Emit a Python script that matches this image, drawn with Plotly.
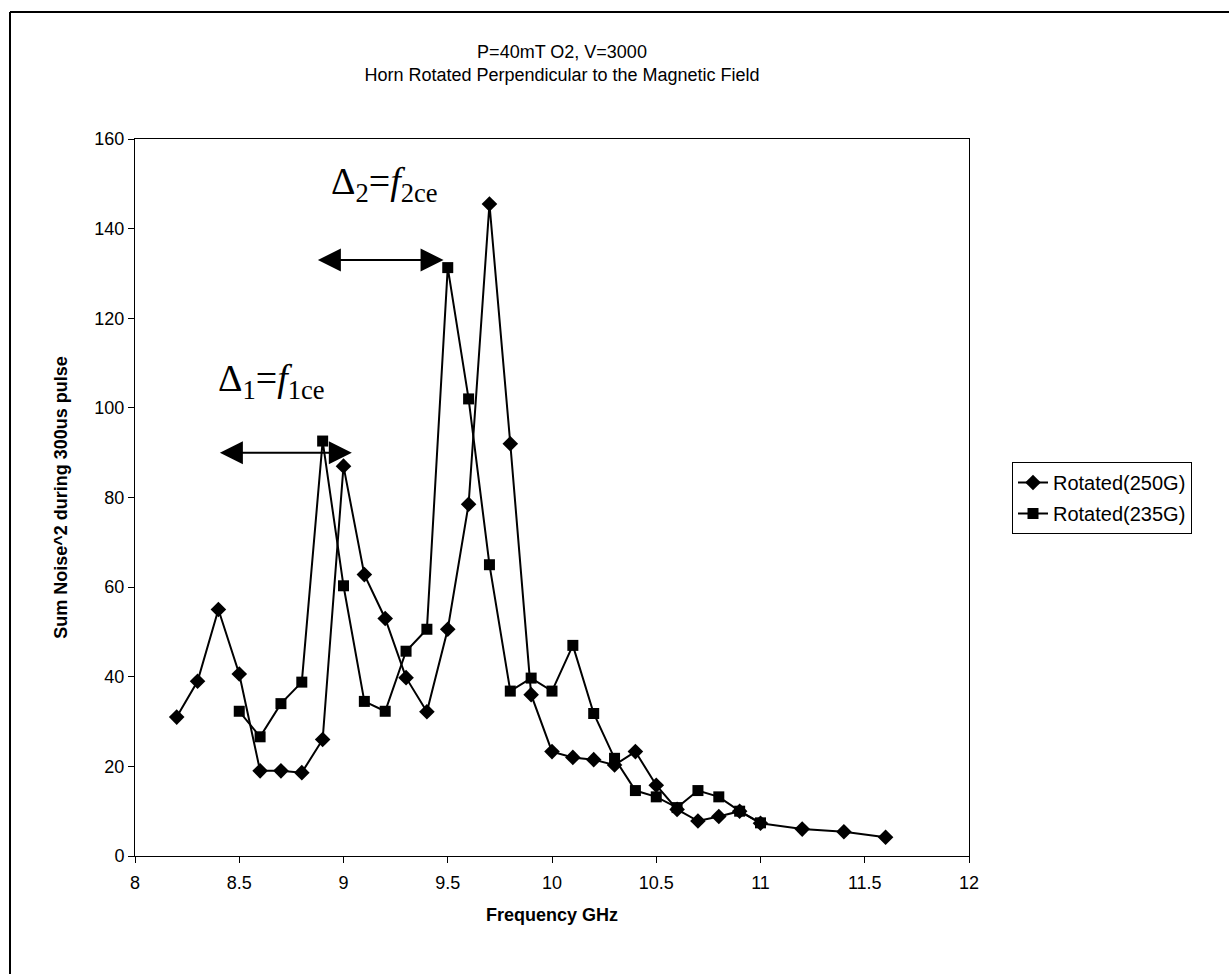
import plotly.graph_objects as go

# Measured noise energy vs. frequency for the two field settings
freq_250 = [8.2, 8.3, 8.4, 8.5, 8.6, 8.7, 8.8, 8.9, 9.0, 9.1, 9.2, 9.3, 9.4, 9.5, 9.6,
            9.7, 9.8, 9.9, 10.0, 10.1, 10.2, 10.3, 10.4, 10.5, 10.6, 10.7, 10.8, 10.9,
            11.0, 11.2, 11.4, 11.6]
noise_250 = [31, 39, 55, 40.6, 19, 19, 18.6, 26, 87, 62.8, 53, 39.8, 32.2, 50.6, 78.5,
             145.5, 92, 36, 23.3, 22, 21.5, 20.3, 23.3, 15.8, 10.4, 7.8, 8.8, 10,
             7.3, 6, 5.4, 4.2]

freq_235 = [8.5, 8.6, 8.7, 8.8, 8.9, 9.0, 9.1, 9.2, 9.3, 9.4, 9.5, 9.6, 9.7, 9.8, 9.9,
            10.0, 10.1, 10.2, 10.3, 10.4, 10.5, 10.6, 10.7, 10.8, 10.9, 11.0]
noise_235 = [32.3, 26.6, 34, 38.8, 92.6, 60.3, 34.5, 32.3, 45.7, 50.6, 131.3, 102, 65,
             36.8, 39.7, 36.8, 47, 31.8, 21.8, 14.6, 13.2, 10.8, 14.6, 13.2, 10, 7.4]

series_names = ["Rotated(250G)", "Rotated(235G)"]
x_ticks = [8, 8.5, 9, 9.5, 10, 10.5, 11, 11.5, 12]
y_ticks = [0, 20, 40, 60, 80, 100, 120, 140, 160]

SANS = "Liberation Sans, Arial, sans-serif"
SERIF = "Liberation Serif, Times New Roman, serif"

fig = go.Figure()
fig.add_trace(go.Scatter(
    x=freq_250, y=noise_250, mode="lines+markers", name=series_names[0],
    legendgroup="a",
    line=dict(color="black", width=2),
    marker=dict(symbol="diamond", size=12, color="black"),
))
fig.add_trace(go.Scatter(
    x=freq_235, y=noise_235, mode="lines+markers", name=series_names[1],
    legendgroup="b",
    line=dict(color="black", width=2),
    marker=dict(symbol="square", size=11, color="black"),
))

W, H = 1229, 974
L, R, T, B = 135, W - 969, 139, H - 856
pw, ph = W - L - R, H - T - B


def px_to_paper(px, py):
    return (px - L) / pw, (H - B - py) / ph


annotations = []
# double-headed arrows marking the frequency offsets
for (x0, x1, yv) in [(8.40, 9.04, 90), (8.87, 9.48, 133)]:
    annotations.append(dict(
        x=x1, y=yv, ax=x0, ay=yv, xref="x", yref="y", axref="x", ayref="y",
        text="", showarrow=True, arrowhead=2, arrowside="end+start",
        arrowsize=2.3, arrowwidth=2, arrowcolor="black",
    ))
annotations.append(dict(
    x=8.39, y=106, xref="x", yref="y", xanchor="left", yanchor="middle",
    text="Δ<sub>1</sub>=<i>f</i><sub>1ce</sub>", showarrow=False,
    font=dict(family=SERIF, size=38, color="black"),
))
annotations.append(dict(
    x=8.93, y=150, xref="x", yref="y", xanchor="left", yanchor="middle",
    text="Δ<sub>2</sub>=<i>f</i><sub>2ce</sub>", showarrow=False,
    font=dict(family=SERIF, size=38, color="black"),
))

# outer frame (left and top edges)
fx0, fy0 = px_to_paper(10, 12)
fx1, fy1 = px_to_paper(W + 5, H + 5)
shapes = [
    dict(type="line", xref="paper", yref="paper", x0=fx0, y0=fy0, x1=fx0, y1=fy1,
         line=dict(color="black", width=2)),
    dict(type="line", xref="paper", yref="paper", x0=fx0, y0=fy0, x1=fx1, y1=fy0,
         line=dict(color="black", width=2)),
]

lx, ly = px_to_paper(1012, 462)

fig.update_layout(
    width=W, height=H,
    margin=dict(l=L, r=R, t=T, b=B),
    paper_bgcolor="white", plot_bgcolor="white",
    font=dict(family=SANS, size=18, color="black"),
    title=dict(
        text="P=40mT O2, V=3000<br>Horn Rotated Perpendicular to the Magnetic Field",
        x=562 / W, xref="container", xanchor="center",
        y=1 - 58 / H, yref="container", yanchor="top",
        font=dict(family=SANS, size=18, color="black"),
    ),
    xaxis=dict(
        range=[8, 12], tickvals=x_ticks, ticktext=[f"{v:g}" for v in x_ticks],
        showline=True, mirror=True, linecolor="black", linewidth=1,
        ticks="outside", ticklen=6, tickcolor="black", showgrid=False, zeroline=False,
        tickfont=dict(family=SANS, size=18), ticklabelstandoff=4,
        title=dict(text="<b>Frequency GHz</b>", font=dict(family=SANS, size=18), standoff=16),
    ),
    yaxis=dict(
        range=[0, 160], tickvals=y_ticks,
        showline=True, mirror=True, linecolor="black", linewidth=1,
        ticks="outside", ticklen=6, tickcolor="black", showgrid=False, zeroline=False,
        tickfont=dict(family=SANS, size=18),
        title=dict(text="<b>Sum Noise^2 during 300us pulse</b>",
                   font=dict(family=SANS, size=18), standoff=22),
    ),
    legend=dict(
        x=lx, y=ly, xanchor="left", yanchor="top",
        bordercolor="black", borderwidth=1, bgcolor="white",
        font=dict(family=SANS, size=20), tracegroupgap=2,
    ),
    annotations=annotations,
    shapes=shapes,
    showlegend=True,
)

fig.write_html("out.html")
